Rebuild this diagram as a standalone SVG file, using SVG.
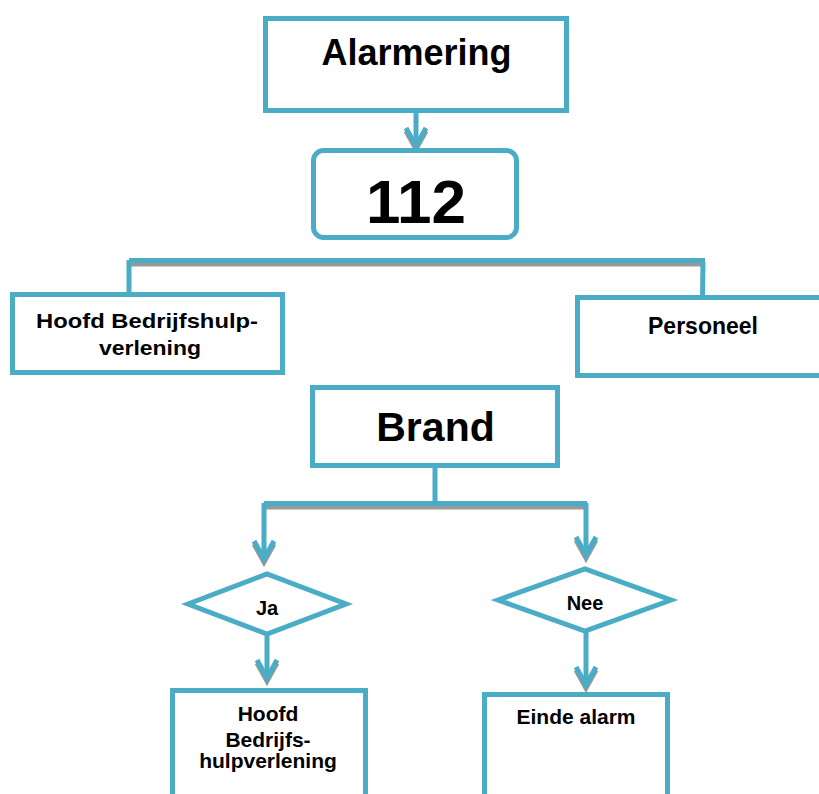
<svg xmlns="http://www.w3.org/2000/svg" xmlns:xlink="http://www.w3.org/1999/xlink" width="819" height="794" viewBox="0 0 819 794">
<style>
.box{fill:#fff;stroke:#4BACC6;stroke-width:5}
.ln{fill:none;stroke:#4BACC6;stroke-width:5}
.sh{fill:none;stroke:#999;stroke-width:5}
.t{font-family:"Liberation Sans",Arial,sans-serif;font-weight:bold;fill:#000;text-anchor:middle}
</style>
<defs>
<g id="chev">
<path class="sh" d="M-10,-15 L0,3 L10,-15"/>
<path class="ln" d="M-10,-18 L0,0 L10,-18"/>
</g>
</defs>
<g id="connectors">
<line class="ln" x1="416" y1="113" x2="416" y2="144"/>
<use xlink:href="#chev" x="416" y="146"/>
<line class="sh" x1="129" y1="264" x2="705" y2="264"/>
<line class="ln" x1="129" y1="260.5" x2="705" y2="260.5"/>
<line class="ln" x1="129" y1="260" x2="129" y2="296"/>
<line class="ln" x1="703" y1="262" x2="702.5" y2="298"/>
<line class="ln" x1="435" y1="468" x2="435" y2="504"/>
<line class="sh" x1="264" y1="507" x2="587" y2="507"/>
<line class="ln" x1="264" y1="503.5" x2="587" y2="503.5"/>
<line class="ln" x1="264" y1="503" x2="264" y2="557"/>
<use xlink:href="#chev" x="264" y="559"/>
<line class="ln" x1="586" y1="503" x2="586" y2="553"/>
<use xlink:href="#chev" x="586" y="555"/>
<line class="ln" x1="267" y1="634" x2="267" y2="676"/>
<use xlink:href="#chev" x="267" y="678"/>
<line class="ln" x1="586" y1="631" x2="586" y2="683"/>
<use xlink:href="#chev" x="586" y="685"/>
</g>
<g id="alarmering">
<rect class="box" x="265.5" y="18.5" width="301" height="92"/>
<text class="t" x="416.5" y="65" font-size="36">Alarmering</text>
</g>
<g id="n112">
<rect class="box" x="313.5" y="150.5" width="203" height="87" rx="10"/>
<text class="t" x="416" y="223" font-size="62">112</text>
</g>
<g id="hoofd1">
<rect class="box" x="12.5" y="294.5" width="270" height="78"/>
<text class="t" x="147" y="328" font-size="21" textLength="222" lengthAdjust="spacingAndGlyphs">Hoofd Bedrijfshulp-</text>
<text class="t" x="150" y="355" font-size="21" textLength="102" lengthAdjust="spacingAndGlyphs">verlening</text>
</g>
<g id="personeel">
<rect class="box" x="577.5" y="297.5" width="260" height="78"/>
<text class="t" x="703" y="334" font-size="23">Personeel</text>
</g>
<g id="brand">
<rect class="box" x="312.5" y="387.5" width="245" height="78"/>
<text class="t" x="435.5" y="441" font-size="41">Brand</text>
</g>
<g id="ja">
<polygon class="box" points="188,604 267,574 346,604 267,634"/>
<text class="t" x="267" y="615" font-size="20">Ja</text>
</g>
<g id="nee">
<polygon class="box" points="498,600 585,569 671,600 585,631"/>
<text class="t" x="585" y="610" font-size="20">Nee</text>
</g>
<g id="hoofd2">
<rect class="box" x="172.5" y="690.5" width="193" height="130"/>
<text class="t" x="268" y="721" font-size="21">Hoofd</text>
<text class="t" x="268" y="747" font-size="21">Bedrijfs-</text>
<text class="t" x="268" y="768" font-size="21">hulpverlening</text>
</g>
<g id="einde">
<rect class="box" x="484.5" y="694.5" width="183" height="130"/>
<text class="t" x="576" y="724" font-size="21">Einde alarm</text>
</g>
</svg>
